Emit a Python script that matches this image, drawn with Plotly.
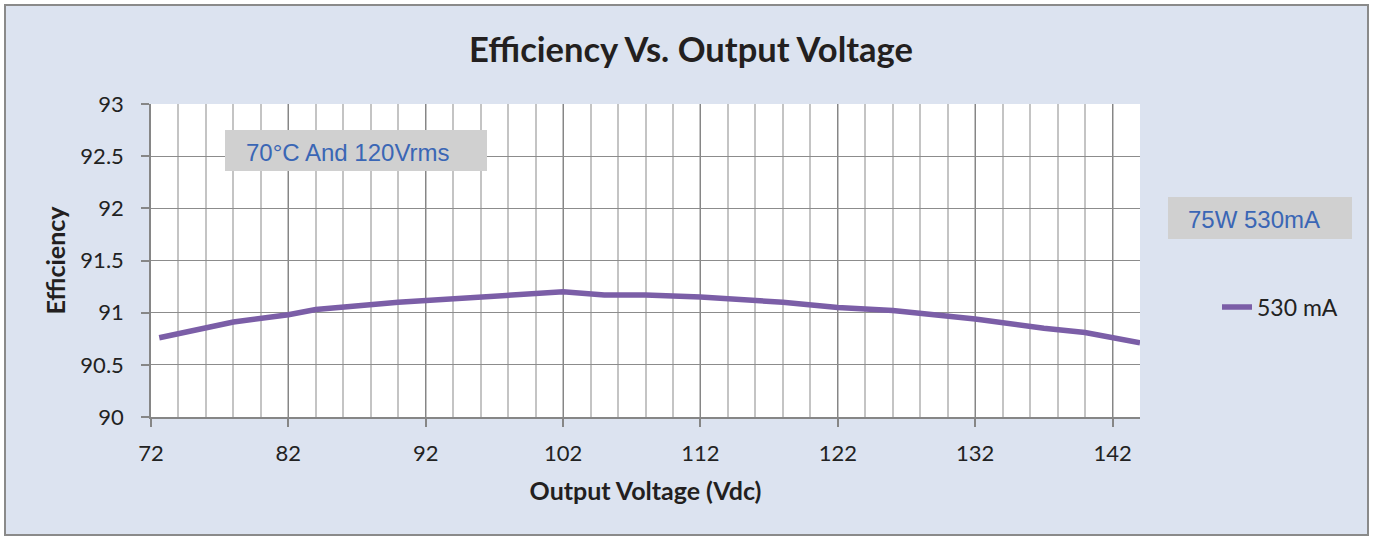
import plotly.graph_objects as go

# Data
voltage = [72.6, 78, 82, 84, 90, 96, 102, 105, 108, 112, 115, 118, 122, 126, 132, 137, 140, 144]
efficiency = [90.76, 90.91, 90.98, 91.03, 91.10, 91.15, 91.20, 91.17, 91.17, 91.15, 91.13, 91.10,
              91.05, 91.02, 90.94, 90.85, 90.81, 90.71]
series_name = "530 mA"
x_ticks = [72, 82, 92, 102, 112, 122, 132, 142]
y_ticks = [90, 90.5, 91, 91.5, 92, 92.5, 93]
y_tick_text = ["90", "90.5", "91", "91.5", "92", "92.5", "93"]
minor_x = list(range(74, 145, 2))

W, H = 1373, 540
L, R, T, B = 151, 233, 104, 123
PW, PH = W - L - R, H - T - B


def px_x(p):
    return (p - L) / PW


def px_y(p):
    return (H - B - p) / PH


BG = "#DCE3F0"
FONT = "Lato"

fig = go.Figure()
fig.add_trace(go.Scatter(
    x=voltage, y=efficiency, mode="lines", name=series_name,
    line=dict(color="#7B5EA7", width=5.5),
))

fig.update_layout(
    width=W, height=H,
    margin=dict(l=L, r=R, t=T, b=B),
    paper_bgcolor=BG, plot_bgcolor="white",
    font=dict(family=FONT, size=22, color="#222222"),
    title=dict(text="<b>Efficiency Vs. Output Voltage</b>", x=(691 / W), xanchor="center",
               y=1 - 50 / H, yanchor="middle", font=dict(family=FONT, size=34.5, color="#231f20")),
    showlegend=True,
    legend=dict(x=px_x(1217), y=px_y(307), xanchor="left", yanchor="middle",
                bgcolor="rgba(0,0,0,0)", font=dict(family=FONT, size=23, color="#222222")),
)

fig.update_xaxes(
    range=[72, 144], tickmode="array", tickvals=x_ticks,
    ticks="outside", ticklen=8, tickcolor="#868686", tickwidth=1.5,
    showline=True, linecolor="#868686", linewidth=1.5,
    showgrid=True, gridcolor="#868686", gridwidth=1.3,
    minor=dict(tickmode="array", tickvals=minor_x, showgrid=True, gridcolor="#C4C4C4", gridwidth=1.5, ticks=""),
    zeroline=False, ticklabelstandoff=8,
    title=dict(text="<b>Output Voltage (Vdc)</b>", font=dict(family=FONT, size=25, color="#231f20"), standoff=17),
)
fig.update_yaxes(
    range=[90, 93], tickmode="array", tickvals=y_ticks, ticktext=y_tick_text,
    ticks="outside", ticklen=8, tickcolor="#868686", tickwidth=1.5,
    showline=True, linecolor="#868686", linewidth=1.5,
    showgrid=True, gridcolor="#8C8C8C", gridwidth=1.3,
    zeroline=False, ticklabelstandoff=13,
    title=dict(text="<b>Efficiency</b>", font=dict(family=FONT, size=25, color="#231f20"), standoff=8),
)

# outer white strip and chart border
fig.add_shape(type="rect", xref="paper", yref="paper",
              x0=px_x(0), x1=px_x(W), y0=px_y(H), y1=px_y(0),
              line=dict(color="white", width=9), fillcolor="rgba(0,0,0,0)", layer="above")
fig.add_shape(type="rect", xref="paper", yref="paper",
              x0=px_x(5), x1=px_x(1368), y0=px_y(535), y1=px_y(5),
              line=dict(color="#8a8a8a", width=2), fillcolor="rgba(0,0,0,0)", layer="above")

# annotation boxes
fig.add_shape(type="rect", xref="paper", yref="paper",
              x0=px_x(225), x1=px_x(487), y0=px_y(171), y1=px_y(130),
              line=dict(width=0), fillcolor="#D0D0D0", layer="above")
fig.add_shape(type="rect", xref="paper", yref="paper",
              x0=px_x(1168), x1=px_x(1352), y0=px_y(239), y1=px_y(197),
              line=dict(width=0), fillcolor="#D0D0D0", layer="above")
fig.add_annotation(text="70°C And 120Vrms", xref="paper", yref="paper",
                   x=px_x(347), y=px_y(152), xanchor="center", yanchor="middle",
                   showarrow=False,
                   font=dict(family="Liberation Sans", size=24, color="#3A66B5"))
fig.add_annotation(text="75W 530mA", xref="paper", yref="paper",
                   x=px_x(1254), y=px_y(219), xanchor="center", yanchor="middle",
                   showarrow=False,
                   font=dict(family="Liberation Sans", size=24, color="#3A66B5"))

fig.write_html("out.html", config={"displayModeBar": False},
               post_script="document.body.style.margin='0';")
